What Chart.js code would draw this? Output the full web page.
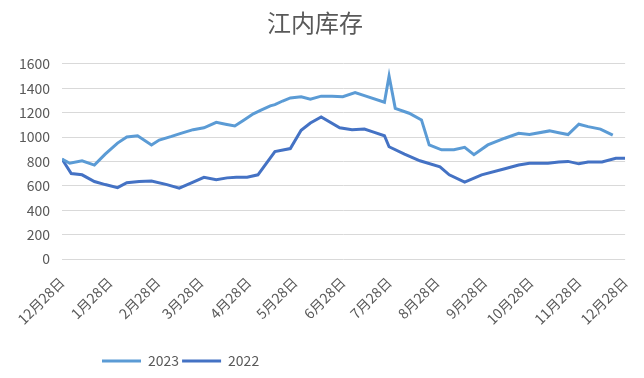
<!DOCTYPE html>
<html>
<head>
<meta charset="utf-8">
<script src="https://cdn.jsdelivr.net/npm/chart.js@4/dist/chart.umd.min.js"></script>
<style>
  body { margin: 0; background: #fff; }
  canvas { display: block; }
</style>
</head>
<body>
<canvas id="stockChart" width="644" height="378"></canvas>
<script>
// days counted from 12月28日
const days2023 = [0, 5, 13, 21, 28, 36, 42, 49, 58, 63, 71, 77, 85, 92, 100, 106, 112, 118, 124, 129,
  135, 138, 143, 148, 155, 161, 168, 175, 182, 190, 197, 209, 212, 216, 225, 233, 238, 246, 254, 261,
  267, 276, 287, 296, 303, 316, 322, 328, 335, 341, 349, 357];
const values2023 = [820, 785, 805, 770, 860, 950, 1000, 1010, 935, 975, 1005, 1030, 1060, 1075, 1120, 1105, 1090, 1140, 1190, 1220,
  1255, 1265, 1295, 1320, 1330, 1310, 1335, 1335, 1330, 1365, 1335, 1285, 1500, 1235, 1195, 1140, 935, 895, 895, 915,
  855, 935, 990, 1030, 1020, 1050, 1035, 1020, 1105, 1085, 1065, 1015];

const days2022 = [0, 6, 13, 21, 28, 36, 42, 50, 58, 68, 76, 85, 92, 100, 107, 113, 120, 127, 138, 148,
  155, 161, 168, 180, 188, 196, 202, 209, 212, 222, 232, 245, 251, 261, 272, 287, 296, 303, 315, 322,
  328, 335, 341, 350, 359, 365];
const values2022 = [820, 700, 690, 635, 610, 585, 625, 635, 640, 610, 580, 630, 670, 650, 665, 670, 670, 690, 880, 905,
  1055, 1115, 1165, 1075, 1060, 1065, 1040, 1010, 920, 860, 805, 755, 690, 630, 690, 740, 770, 785, 785, 795,
  800, 780, 795, 795, 825, 825];

const monthTicks = [0, 31, 62, 90, 121, 151, 182, 212, 243, 274, 304, 335, 365];
const tickLabels = ['12月28日', '1月28日', '2月28日', '3月28日', '4月28日', '5月28日', '6月28日',
  '7月28日', '8月28日', '9月28日', '10月28日', '11月28日', '12月28日'];

const FONT = '"Noto Sans CJK SC", "Noto Sans", sans-serif';
const TEXT = '#595959';

function toPoints(xs, ys) {
  return xs.map((x, i) => ({ x: x, y: ys[i] }));
}

// push the legend to the left like the original
const legendShift = {
  id: 'legendShift',
  afterLayout(chart) {
    if (chart.legend) {
      chart.legend.left = 99;
    }
  }
};

new Chart(document.getElementById('stockChart'), {
  type: 'line',
  data: {
    datasets: [
      {
        label: '2023',
        data: toPoints(days2023, values2023),
        borderColor: '#5B9BD5',
        backgroundColor: '#5B9BD5',
        borderWidth: 3,
        pointRadius: 0,
        tension: 0
      },
      {
        label: '2022',
        data: toPoints(days2022, values2022),
        borderColor: '#4472C4',
        backgroundColor: '#4472C4',
        borderWidth: 3,
        pointRadius: 0,
        tension: 0
      }
    ]
  },
  options: {
    responsive: false,
    animation: false,
    layout: { padding: { left: 0, right: 14, top: 0, bottom: 0 } },
    plugins: {
      title: {
        display: true,
        text: '江内库存',
        color: TEXT,
        font: { family: FONT, size: 24, weight: 'normal' },
        padding: { top: 8, bottom: 27 }
      },
      legend: {
        position: 'bottom',
        align: 'start',
        labels: {
          usePointStyle: true,
          pointStyle: 'line',
          pointStyleWidth: 39,
          padding: 3,
          color: TEXT,
          font: { family: FONT, size: 14 }
        }
      },
      tooltip: { enabled: false }
    },
    scales: {
      x: {
        type: 'linear',
        min: 0,
        max: 365,
        grid: { display: false },
        border: { display: false },
        afterBuildTicks: (scale) => {
          scale.ticks = monthTicks.map(v => ({ value: v }));
        },
        afterFit: (scale) => {
          scale.height = 92;
        },
        ticks: {
          autoSkip: false,
          minRotation: 45,
          maxRotation: 45,
          padding: 7,
          color: TEXT,
          font: { family: FONT, size: 14 },
          callback: (value, index) => tickLabels[index]
        }
      },
      y: {
        min: 0,
        max: 1600,
        grid: { color: '#d9d9d9', lineWidth: 1, drawTicks: false },
        border: { display: false },
        afterFit: (scale) => {
          scale.width = 62;
        },
        ticks: {
          stepSize: 200,
          padding: 12,
          color: TEXT,
          font: { family: FONT, size: 14 },
          callback: (value) => String(value)
        }
      }
    }
  },
  plugins: [legendShift]
});
</script>
</body>
</html>
